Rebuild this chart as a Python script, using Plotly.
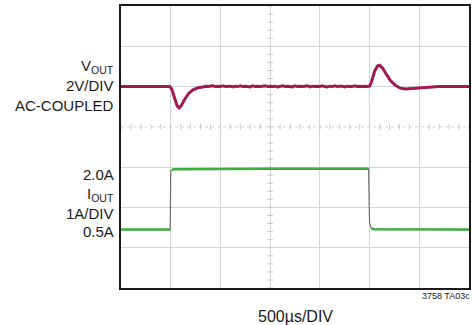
import plotly.graph_objects as go

# time axis in divisions (500us/DIV), vertical axis in screen divisions
vout_t = [0.00, 0.30, 0.60, 0.90, 0.98, 1.02, 1.08, 1.13, 1.17, 1.21, 1.28, 1.36, 1.45, 1.55,
          1.65, 1.70, 1.75, 1.80, 1.85, 1.90, 1.95, 2.00, 2.05, 2.10, 2.15, 2.20, 2.25,
          2.30, 2.35, 2.40, 2.45, 2.50, 2.55, 2.60, 2.65, 2.70, 2.75, 2.80, 2.85, 2.90,
          2.95, 3.00, 3.05, 3.10, 3.15, 3.20, 3.25, 3.30, 3.35, 3.40, 3.45, 3.50, 3.55,
          3.60, 3.65, 3.70, 3.75, 3.80, 3.85, 3.90, 3.95, 4.00, 4.05, 4.10, 4.15, 4.20,
          4.25, 4.30, 4.35, 4.40, 4.45, 4.50, 4.55, 4.60, 4.65, 4.70, 4.75, 4.80, 4.85,
          4.90, 4.95, 5.00, 5.04, 5.10, 5.16, 5.20, 5.26,
          5.34, 5.42, 5.52, 5.62, 5.72, 5.85, 6.00, 6.20, 6.40, 6.70, 7.00]
vout_div = [5.00, 5.00, 5.00, 5.00, 5.00, 4.94, 4.70, 4.52, 4.47, 4.52, 4.68, 4.83, 4.92, 4.97,
            4.99, 5.01, 5.00, 5.01, 5.02, 5.00, 5.01, 5.00, 5.02, 5.00, 5.01, 5.01, 4.99,
            5.01, 5.00, 5.02, 5.00, 5.01, 5.00, 4.99, 5.02, 5.00, 5.01, 5.00, 5.01, 5.02,
            5.00, 5.01, 5.00, 5.01, 4.99, 5.01, 5.02, 5.00, 5.01, 5.00, 4.99, 5.02, 5.00,
            5.01, 5.00, 5.01, 5.02, 4.99, 5.01, 5.00, 5.01, 5.00, 5.02, 5.00, 4.99, 5.01,
            5.00, 5.02, 5.00, 5.01, 5.01, 4.99, 5.01, 5.00, 5.00, 5.02, 5.00, 5.01, 5.00,
            5.01, 5.00, 5.01, 5.12, 5.38, 5.51, 5.53, 5.46,
            5.30, 5.15, 5.03, 4.96, 4.94, 4.95, 4.97, 4.99, 5.00, 5.00, 5.00]

iout_t = [0.00, 0.99, 1.00, 1.03, 1.08, 3.00, 4.98, 5.00, 5.04, 5.10, 7.00]
iout_div = [1.45, 1.45, 2.90, 2.94, 2.95, 2.96, 2.96, 1.60, 1.47, 1.46, 1.45]
iout_flat = [True, True, False, True, True, True, True, False, True, True, True]

grid_y = [1, 2, 3, 5, 6]
grid_x = [1, 2, 3, 4, 5, 6]
tick_steps = [i * 0.2 for i in range(36)]

vout_lines = ["V<sub>OUT</sub>", "2V/DIV", "AC-COUPLED"]
iout_lines = ["2.0A", "I<sub>OUT</sub>", "1A/DIV", "0.5A"]

fig = go.Figure()

# center graticule: dotted line with small ticks
fig.add_trace(go.Scatter(x=[0, 7], y=[4, 4], mode="lines",
                         line=dict(color="#d2d2d2", width=1, dash="dot"), hoverinfo="skip"))
fig.add_trace(go.Scatter(x=tick_steps, y=[4] * len(tick_steps), mode="markers",
                         marker=dict(symbol="line-ns", size=4, line=dict(color="#c8c8c8", width=1)),
                         hoverinfo="skip"))
fig.add_trace(go.Scatter(x=[3] * len(tick_steps), y=tick_steps, mode="markers",
                         marker=dict(symbol="line-ew", size=4, line=dict(color="#c8c8c8", width=1)),
                         hoverinfo="skip"))

# current trace: thin grey edges, green flat parts
fig.add_trace(go.Scatter(x=iout_t, y=iout_div, mode="lines",
                         line=dict(color="#6e6e6e", width=1.2), hoverinfo="skip"))
green_y = [v if f else None for v, f in zip(iout_div, iout_flat)]
fig.add_trace(go.Scatter(x=iout_t, y=green_y, mode="lines", connectgaps=False,
                         line=dict(color="#3aae3a", width=2.5), hoverinfo="skip"))

fig.add_trace(go.Scatter(x=vout_t, y=vout_div, mode="lines",
                         line=dict(color="#a01a4e", width=3), hoverinfo="skip"))

font = dict(family="Liberation Sans, Arial, sans-serif", size=15, color="#1a1a1a")

def px_y(py):
    return (288 - py) / 282

for txt, py in zip(vout_lines, [66, 86, 106]):
    fig.add_annotation(text=txt, xref="paper", yref="paper", x=(113 - 121) / 350, y=px_y(py),
                       xanchor="right", yanchor="middle", showarrow=False, font=font,
                       align="right", xshift=3)
for txt, py in zip(iout_lines, [175, 194, 213, 232]):
    fig.add_annotation(text=txt, xref="paper", yref="paper", x=(113 - 121) / 350, y=px_y(py),
                       xanchor="right", yanchor="middle", showarrow=False, font=font,
                       align="right", xshift=3)

fig.add_annotation(text="500µs/DIV", xref="paper", yref="paper", x=0.5, y=px_y(316),
                   xanchor="center", yanchor="middle", showarrow=False,
                   font=dict(family="Liberation Sans, Arial, sans-serif", size=16, color="#1a1a1a"))
fig.add_annotation(text="3758 TA03c", xref="paper", yref="paper", x=1.0, y=px_y(296),
                   xanchor="right", yanchor="middle", showarrow=False, xshift=3,
                   font=dict(family="Liberation Sans, Arial, sans-serif", size=9, color="#1a1a1a"))

fig.update_xaxes(range=[0, 7], tickvals=grid_x, showticklabels=False, ticks="",
                 showgrid=True, gridcolor="#d6d6d6", gridwidth=1.2, zeroline=False,
                 showline=True, linecolor="#1a1a1a", linewidth=2, mirror=True, fixedrange=True)
fig.update_yaxes(range=[0, 7], tickvals=grid_y, showticklabels=False, ticks="",
                 showgrid=True, gridcolor="#d6d6d6", gridwidth=1.2, zeroline=False,
                 showline=True, linecolor="#1a1a1a", linewidth=2, mirror=True, fixedrange=True)

fig.update_layout(width=474, height=325, margin=dict(l=121, r=3, t=6, b=37),
                  plot_bgcolor="white", paper_bgcolor="white", showlegend=False)

fig.write_html("out.html", config={"displayModeBar": False},
               post_script="document.body.style.margin='0';document.body.style.overflow='hidden';")
